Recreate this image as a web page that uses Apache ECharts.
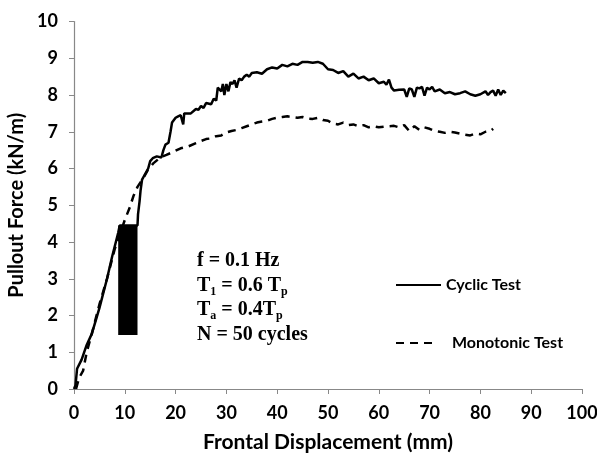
<!DOCTYPE html>
<html>
<head>
<meta charset="utf-8">
<script src="https://cdn.jsdelivr.net/npm/echarts@6/dist/echarts.min.js"></script>
<style>
html,body{margin:0;padding:0;background:#fff;}
#chart{width:597px;height:453px;}
</style>
</head>
<body>
<div id="chart"></div>
<script>
// ---- data ----
var xTicks = [0, 10, 20, 30, 40, 50, 60, 70, 80, 90, 100];
var yTicks = [0, 1, 2, 3, 4, 5, 6, 7, 8, 9, 10];

var cyclicX = [0, 0.3, 0.6, 1.5, 2.5, 3.5, 5, 6.5, 7.5, 8.7, 9.0, 12.5, 12.6, 12.9, 13.1, 13.4, 14, 14.6, 15, 15.5, 16.3, 17.2, 17.6, 18, 18.6, 19.0, 19.3,
  20, 20.5, 21, 21.5, 21.7, 22, 23, 24, 24.5, 25, 25.5, 26, 27, 27.5, 28, 28.3, 28.6, 29, 29.3, 29.6, 30, 30.4, 30.8, 31.2, 31.6, 32, 32.5, 33, 33.5, 34, 34.5, 35, 36, 37, 38, 39, 40, 41, 42, 43, 44, 45,
  46, 47, 48, 49, 50, 51, 52, 53, 54, 55, 56, 57, 58, 59, 60, 61, 61.5, 62, 62.5, 63, 64, 65, 65.5, 66, 66.5, 67, 67.5, 68, 68.5, 69, 69.5, 70, 70.5, 71, 72, 73, 74, 75, 76, 77, 78, 79, 80, 81, 81.5, 82, 82.5, 83, 83.5, 84, 84.5, 85];
var cyclicY = [0, 0.1, 0.55, 0.8, 1.2, 1.5, 2.2, 3.0, 3.6, 4.25, 4.45, 4.45, 4.75, 5.1, 5.4, 5.7, 5.85, 6.0, 6.2, 6.28, 6.33, 6.3, 6.5, 6.65, 6.7, 7.0, 7.25,
  7.38, 7.42, 7.45, 7.2, 7.5, 7.55, 7.5, 7.62, 7.6, 7.7, 7.65, 7.78, 7.75, 7.9, 7.85, 8.2, 8.25, 8.1, 8.3, 8.0, 8.3, 8.1, 8.35, 8.3, 8.4, 8.2, 8.45, 8.4, 8.5, 8.55, 8.5, 8.6, 8.62, 8.58, 8.7, 8.75, 8.72, 8.82, 8.78, 8.85, 8.82, 8.9,
  8.9, 8.88, 8.9, 8.85, 8.7, 8.68, 8.6, 8.65, 8.5, 8.58, 8.45, 8.5, 8.4, 8.45, 8.32, 8.36, 8.28, 8.42, 8.2, 8.12, 8.14, 8.15, 7.95, 8.18, 8.15, 7.95, 8.2, 8.18, 8.22, 7.98, 8.2, 8.15, 8.22, 8.1, 8.15, 8.05, 8.08, 8.02, 8.05, 8.1, 8.02, 7.98, 8.02, 8.1, 8.0, 8.08, 8.12, 7.98, 8.15, 8.0, 8.12, 8.05];

var monoX = [0.4, 1, 1.8, 2.5, 3.5, 5, 6.5, 8, 9, 10, 11, 11.7, 12.5, 13.6, 14.5, 15.6, 17, 18.2, 19.5, 21, 22.5, 24, 25, 26, 27, 28, 29, 30, 31, 32, 33, 34, 35, 36, 37, 38, 39, 40, 41, 42, 43, 44, 45,
  46, 47, 48, 49, 50, 51, 52, 53, 54, 55, 56, 57, 58, 59, 60, 61, 62, 63, 64, 65, 66, 67, 68, 69, 70, 71, 72, 73, 74, 75, 76, 77, 78, 79, 80, 81, 82, 82.5];
var monoY = [0, 0.3, 0.5, 1.0, 1.5, 2.3, 3.0, 3.8, 4.2, 4.6, 4.95, 5.25, 5.5, 5.73, 5.95, 6.14, 6.3, 6.37, 6.45, 6.55, 6.6, 6.69, 6.75, 6.8, 6.82, 6.88, 6.9, 6.98, 7.02, 7.05, 7.1, 7.15, 7.2, 7.25, 7.28, 7.3, 7.35, 7.38, 7.4, 7.42, 7.4, 7.38, 7.4,
  7.36, 7.35, 7.38, 7.32, 7.3, 7.22, 7.2, 7.25, 7.18, 7.2, 7.15, 7.18, 7.12, 7.15, 7.12, 7.14, 7.15, 7.16, 7.12, 7.18, 7.02, 7.15, 7.05, 7.12, 7.08, 7.02, 7.0, 6.97, 7.0, 6.98, 6.95, 6.92, 6.9, 6.95, 6.93, 7.0, 7.02, 7.08];

// black block (x range, y range)
var blockX = [8.7, 12.5];
var blockY = [1.47, 4.45];

var seriesNames = ['Cyclic Test', 'Monotonic Test'];

function pairs(xs, ys) { return xs.map(function (x, i) { return [x, ys[i]]; }); }

var chart = echarts.init(document.getElementById('chart'), null, { renderer: 'canvas' });
var sans = 'Lato';
var serif = '"Liberation Serif", "Times New Roman", serif';

var legendCommon = {
  orient: 'vertical', padding: 0, itemHeight: 14,
  itemStyle: { opacity: 0, borderWidth: 0 },
  textStyle: { fontFamily: sans, fontWeight: 'bold', fontSize: 16, color: '#000' }
};

var option = {
  backgroundColor: '#fff',
  animation: false,
  grid: { left: 74, right: 15, top: 21.5, bottom: 64, containLabel: false, outerBoundsMode: 'none' },
  xAxis: {
    type: 'value', min: xTicks[0], max: xTicks[xTicks.length - 1], interval: 10,
    name: 'Frontal Displacement (mm)', nameLocation: 'middle', nameGap: 43,
    nameTextStyle: { fontFamily: sans, fontWeight: 'bold', fontSize: 21, color: '#000' },
    axisLine: { lineStyle: { color: '#888', width: 1.2 } },
    axisTick: { show: true, inside: false, length: 5, lineStyle: { color: '#888' } },
    axisLabel: { margin: 15, fontFamily: sans, fontWeight: 'bold', fontSize: 18, color: '#000' },
    splitLine: { show: false }
  },
  yAxis: {
    type: 'value', min: yTicks[0], max: yTicks[yTicks.length - 1], interval: 1,
    name: 'Pullout Force (kN/m)', nameLocation: 'middle', nameGap: 42, nameRotate: 90,
    nameTextStyle: { fontFamily: sans, fontWeight: 'bold', fontSize: 20, color: '#000' },
    axisLine: { show: true, lineStyle: { color: '#888', width: 1.2 } },
    axisTick: { show: true, inside: false, length: 5, lineStyle: { color: '#888' } },
    axisLabel: { margin: 16, fontFamily: sans, fontWeight: 'bold', fontSize: 18, color: '#000' },
    splitLine: { show: false }
  },
  legend: [
    Object.assign({}, legendCommon, { data: [seriesNames[0]], left: 395, top: 277, itemWidth: 45 }),
    Object.assign({}, legendCommon, {
      data: [seriesNames[1]], left: 395, top: 335, itemWidth: 38,
      textStyle: Object.assign({}, legendCommon.textStyle, { padding: [0, 0, 0, 13] })
    })
  ],
  graphic: [
    {
      type: 'text', left: 197, top: 251,
      style: {
        text: '{m|f = 0.1 Hz}\n{m|T}{s|1}{m| = 0.6 T}{s|p}\n{m|T}{s|a}{m| = 0.4T}{s|p}\n{m|N = 50 cycles}',
        rich: {
          m: { fontFamily: serif, fontWeight: 'bold', fontSize: 20, lineHeight: 24.5, fill: '#000' },
          s: { fontFamily: serif, fontWeight: 'bold', fontSize: 12, lineHeight: 12, verticalAlign: 'bottom', fill: '#000' }
        }
      }
    }
  ],
  series: [
    {
      name: seriesNames[0], type: 'line', data: pairs(cyclicX, cyclicY),
      showSymbol: false, symbol: 'none',
      lineStyle: { color: '#000', width: 2.5 }, itemStyle: { color: '#000' },
      markArea: {
        silent: true,
        itemStyle: { color: '#000', opacity: 1 },
        data: [[{ coord: [blockX[0], blockY[0]] }, { coord: [blockX[1], blockY[1]] }]]
      },
      z: 3
    },
    {
      name: seriesNames[1], type: 'line', data: pairs(monoX, monoY),
      showSymbol: false, symbol: 'none',
      lineStyle: { color: '#000', width: 2.5, type: [8, 6] }, itemStyle: { color: '#000' },
      z: 2
    }
  ]
};
chart.setOption(option);
</script>
</body>
</html>
